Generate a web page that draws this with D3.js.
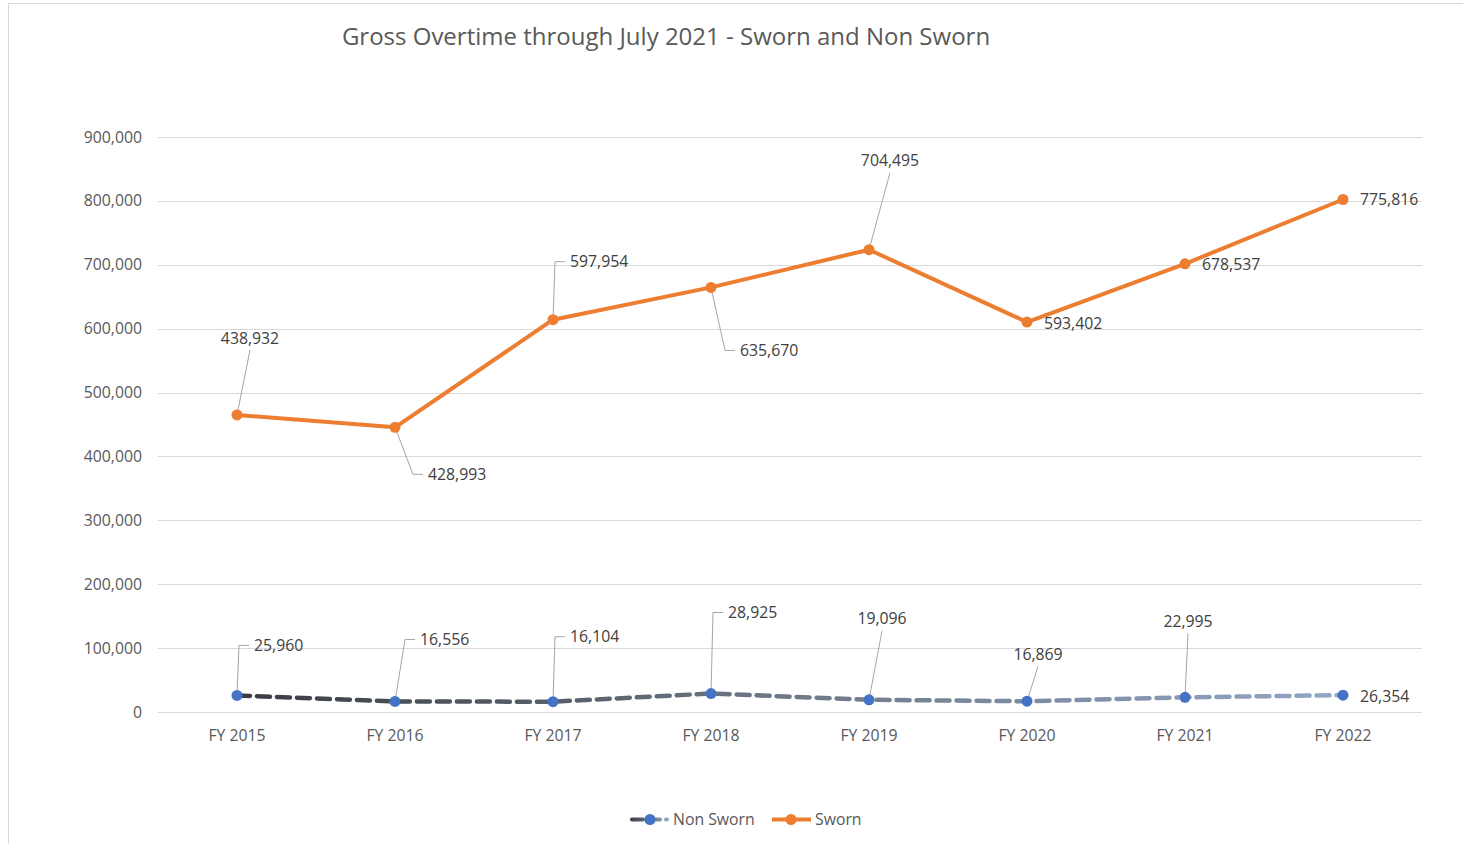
<!DOCTYPE html>
<html>
<head>
<meta charset="utf-8">
<script src="https://cdn.jsdelivr.net/npm/d3@7"></script>
<style>
  body { margin: 0; background: #fff; }
  text { font-family: "Open Sans", Calibri, sans-serif; }
</style>
</head>
<body>
<svg width="1463" height="844"></svg>
<script>
var svg = d3.select("svg"),
    width = +svg.attr("width"),
    height = +svg.attr("height");

// data
var categories = ["FY 2015", "FY 2016", "FY 2017", "FY 2018", "FY 2019", "FY 2020", "FY 2021", "FY 2022"];
var nonSworn = [25960, 16556, 16104, 28925, 19096, 16869, 22995, 26354];
var sworn = [438932, 428993, 597954, 635670, 704495, 593402, 678537, 775816];
var yTicks = [0, 100000, 200000, 300000, 400000, 500000, 600000, 700000, 800000, 900000];

// label placement (dx, dy from the point, anchor, leader kind)
var swornLabelPos = [
  [13, -77, "middle", "straight"], [33, 47, "start", "elbow"], [17, -58, "start", "elbow"],
  [29, 63, "start", "elbow"], [21, -89, "middle", "straight"], [17, 1, "start", null],
  [17, 1, "start", null], [17, 0, "start", null]
];
var nonSwornLabelPos = [
  [17, -50, "start", "elbow"], [25, -62, "start", "elbow"], [17, -65, "start", "elbow"],
  [17, -81, "start", "elbow"], [13, -81, "middle", "straight"], [11, -47, "middle", "straight"],
  [3, -76, "middle", "straight"], [17, 1, "start", null]
];

var margin = {left: 158, right: 1422, top: 137, bottom: 712};
var fmt = d3.format(",");
var fs = 15.8;

var x = d3.scaleBand().domain(categories).range([margin.left, margin.right]);
var y = d3.scaleLinear().domain([0, 900000]).range([margin.bottom, margin.top]);
function cx(i) { return x(categories[i]) + x.bandwidth() / 2; }

// stacked line: sworn sits on top of non sworn
var nonPts = nonSworn.map(function(v, i) { return {i: i, v: v, top: v}; });
var swPts = sworn.map(function(v, i) { return {i: i, v: v, top: v + nonSworn[i]}; });

// chart border
svg.append("rect")
    .attr("x", 8.5).attr("y", 3.5)
    .attr("width", 1480).attr("height", 900)
    .attr("fill", "none").attr("stroke", "#d9d9d9");

// title
svg.append("text")
    .attr("x", 666).attr("y", 45)
    .attr("text-anchor", "middle")
    .attr("font-size", 24)
    .attr("fill", "#595959")
    .text("Gross Overtime through July 2021 - Sworn and Non Sworn");

// grid + y labels
var yAxis = svg.append("g");
yAxis.selectAll("line")
    .data(yTicks)
    .enter().append("line")
      .attr("x1", margin.left).attr("x2", margin.right)
      .attr("y1", function(d) { return Math.round(y(d)) + 0.5; })
      .attr("y2", function(d) { return Math.round(y(d)) + 0.5; })
      .attr("stroke", "#d9d9d9").attr("stroke-width", 1.2);
yAxis.selectAll("text")
    .data(yTicks)
    .enter().append("text")
      .attr("x", 142)
      .attr("y", function(d) { return y(d); })
      .attr("dy", "0.35em")
      .attr("text-anchor", "end")
      .attr("font-size", fs)
      .attr("fill", "#595959")
      .text(fmt);

// x labels
svg.append("g").selectAll("text")
    .data(categories)
    .enter().append("text")
      .attr("x", function(d, i) { return cx(i); })
      .attr("y", 735)
      .attr("dy", "0.35em")
      .attr("text-anchor", "middle")
      .attr("font-size", fs)
      .attr("fill", "#595959")
      .text(function(d) { return d; });

// gradient for non sworn line
var defs = svg.append("defs");
var grad = defs.append("linearGradient")
    .attr("id", "nsGrad")
    .attr("gradientUnits", "userSpaceOnUse")
    .attr("x1", cx(0)).attr("x2", cx(categories.length - 1))
    .attr("y1", 0).attr("y2", 0);
grad.append("stop").attr("offset", "0%").attr("stop-color", "#3a3d42");
grad.append("stop").attr("offset", "45%").attr("stop-color", "#6a7382");
grad.append("stop").attr("offset", "100%").attr("stop-color", "#93a6c6");

var line = d3.line()
    .x(function(d) { return cx(d.i); })
    .y(function(d) { return y(d.top); });

// leader lines
function leaders(pts, pos) {
  var g = svg.append("g");
  pts.forEach(function(d, k) {
    var p = pos[k];
    if (!p[3]) return;
    var px = cx(d.i), py = y(d.top);
    var tx = px + p[0], ty = py + p[1];
    var path;
    if (p[3] == "elbow") {
      path = "M" + px + "," + py + "L" + (tx - 15) + "," + ty + "L" + (tx - 5) + "," + ty;
    } else {
      var ey = p[1] < 0 ? ty + 12 : ty - 12;
      path = "M" + px + "," + py + "L" + tx + "," + ey;
    }
    g.append("path")
        .attr("d", path)
        .attr("fill", "none")
        .attr("stroke", "#a6a6a6")
        .attr("stroke-width", 1);
  });
}
leaders(nonPts, nonSwornLabelPos);
leaders(swPts, swornLabelPos);

svg.append("path")
    .datum(nonPts)
    .attr("d", line)
    .attr("fill", "none")
    .attr("stroke", "url(#nsGrad)")
    .attr("stroke-width", 4.5)
    .attr("stroke-dasharray", "13,7")
    .attr("stroke-linecap", "round");

svg.append("path")
    .datum(swPts)
    .attr("d", line)
    .attr("fill", "none")
    .attr("stroke", "#ed7d31")
    .attr("stroke-width", 4)
    .attr("stroke-linejoin", "round");

svg.append("g").selectAll("circle")
    .data(nonPts)
    .enter().append("circle")
      .attr("cx", function(d) { return cx(d.i); })
      .attr("cy", function(d) { return y(d.top); })
      .attr("r", 5.5)
      .attr("fill", "#4472c4");

svg.append("g").selectAll("circle")
    .data(swPts)
    .enter().append("circle")
      .attr("cx", function(d) { return cx(d.i); })
      .attr("cy", function(d) { return y(d.top); })
      .attr("r", 5.5)
      .attr("fill", "#ed7d31");

// data labels
function labels(pts, pos) {
  svg.append("g").selectAll("text")
      .data(pts)
      .enter().append("text")
        .attr("x", function(d, k) { return cx(d.i) + pos[k][0]; })
        .attr("y", function(d, k) { return y(d.top) + pos[k][1]; })
        .attr("dy", "0.35em")
        .attr("text-anchor", function(d, k) { return pos[k][2]; })
        .attr("font-size", fs)
        .attr("fill", "#404040")
        .text(function(d) { return fmt(d.v); });
}
labels(nonPts, nonSwornLabelPos);
labels(swPts, swornLabelPos);

// legend
var legend = svg.append("g");
var lg = defs.append("linearGradient")
    .attr("id", "lgGrad")
    .attr("gradientUnits", "userSpaceOnUse")
    .attr("x1", 630).attr("x2", 668).attr("y1", 0).attr("y2", 0);
lg.append("stop").attr("offset", "0%").attr("stop-color", "#3a3d42");
lg.append("stop").attr("offset", "100%").attr("stop-color", "#93a6c6");
legend.append("line")
    .attr("x1", 632).attr("x2", 667).attr("y1", 819.5).attr("y2", 819.5)
    .attr("stroke", "url(#lgGrad)").attr("stroke-width", 4)
    .attr("stroke-dasharray", "11,6").attr("stroke-linecap", "round");
legend.append("circle").attr("cx", 650).attr("cy", 819.5).attr("r", 5.5).attr("fill", "#4472c4");
legend.append("text")
    .attr("x", 673).attr("y", 819.5).attr("dy", "0.35em")
    .attr("font-size", fs).attr("fill", "#595959")
    .text("Non Sworn");
legend.append("line")
    .attr("x1", 772).attr("x2", 811).attr("y1", 819.5).attr("y2", 819.5)
    .attr("stroke", "#ed7d31").attr("stroke-width", 4);
legend.append("circle").attr("cx", 791).attr("cy", 819.5).attr("r", 5.5).attr("fill", "#ed7d31");
legend.append("text")
    .attr("x", 815).attr("y", 819.5).attr("dy", "0.35em")
    .attr("font-size", fs).attr("fill", "#595959")
    .text("Sworn");
</script>
</body>
</html>
